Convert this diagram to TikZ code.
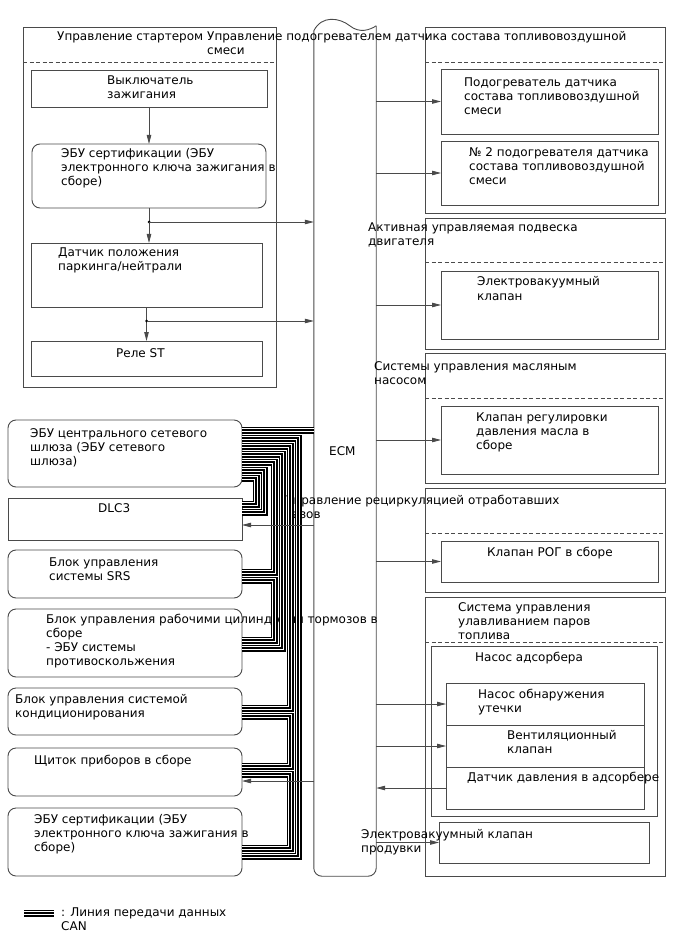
\documentclass[tikz,border=0pt]{standalone}
\usepackage{fontspec}
\setmainfont{DejaVu Sans}
\usetikzlibrary{arrows.meta,calc}
\definecolor{linegray}{HTML}{4A4A4A}
\newcommand{\lblfont}{\fontsize{12}{14}\selectfont}
\tikzset{
    box/.style={draw=linegray, line width=0.9pt, inner sep=0pt, outer sep=0pt}, % блок
    rbox/.style={box, rounded corners=8pt},
    sep/.style={draw=linegray, line width=0.8pt, dash pattern=on 4pt off 2.5pt},
    lbl/.style={anchor=base west, inner sep=0pt, align=left, font=\lblfont},
    arr/.style={draw=linegray, line width=0.8pt, -{Triangle[length=9pt,width=4.5pt]}},
    can/.style={draw=black, line width=7pt, line join=miter,
        postaction={draw=white, line width=4.2pt},
        postaction={draw=black, line width=1.4pt}} % линия CAN
}

\begin{document}
\begin{tikzpicture}[x=1pt, y=-1pt]
	\useasboundingbox (0,0) rectangle (688,949);

	% управление стартером
	\node (stgrp) [box, minimum width=253, minimum height=360] at (149.5,207) {};
	\node (ign) [box, minimum width=236, minimum height=37] at (149,88.5) {};
	\node (cert1) [rbox, minimum width=234, minimum height=64] at (149,176) {};
	\node (park) [box, minimum width=231, minimum height=64] at (146.5,275) {};
	\node (relay) [box, minimum width=231, minimum height=35] at (146.5,358.5) {};

	% ECM
	\node (ecm) [inner sep=0pt, minimum width=62, minimum height=851] at (345,450.5) {};
	\draw[draw=linegray, line width=0.9pt, rounded corners=8pt] ($(ecm.north east)+(0,1)$) -- (ecm.south east) -- (ecm.south west) -- ($(ecm.north west)+(0,6)$);
	\draw[draw=linegray, line width=0.9pt] ($(ecm.north west)+(0,6)$) .. controls +(8,-16) and +(-10,-8) .. ($(ecm.north west)+(36,1)$) .. controls +(10,8) and +(-6,4) .. ($(ecm.north east)+(0,1)$);

	% правые группы
	\node (htgrp) [box, minimum width=240, minimum height=186] at (545,120) {};
	\node (heat1) [box, minimum width=217, minimum height=65] at (549.5,101.5) {};
	\node (heat2) [box, minimum width=217, minimum height=64] at (549.5,173) {};
	\node (mtgrp) [box, minimum width=240, minimum height=131] at (545,283.5) {};
	\node (mvalve) [box, minimum width=217, minimum height=68] at (549.5,305) {};
	\node (oilgrp) [box, minimum width=240, minimum height=130] at (545,418) {};
	\node (oilv) [box, minimum width=217, minimum height=68] at (549.5,440) {};
	\node (egrgrp) [box, minimum width=240, minimum height=104] at (545,540) {};
	\node (egrv) [box, minimum width=217, minimum height=41] at (549.5,561.5) {};
	\node (evgrp) [box, minimum width=240, minimum height=279] at (545,736.5) {};
	\node (pump) [box, minimum width=226, minimum height=170] at (544,731) {};
	\node (leak) [box, minimum width=198, minimum height=42] at (545,704) {};
	\node (vent) [box, minimum width=198, minimum height=42] at (545,746) {};
	\node (press) [box, minimum width=198, minimum height=42] at (545,788) {};
	\node (purge) [box, minimum width=210, minimum height=41] at (544,842.5) {};

	\foreach \g/\d in {stgrp/35, htgrp/35, mtgrp/44, oilgrp/45, egrgrp/45, evgrp/45}
		\draw[sep] ($(\g.north west)+(0,\d)$) -- ($(\g.north east)+(0,\d)$);

	% блоки CAN
	\node (gw) [rbox, minimum width=234, minimum height=67] at (125,453.5) {};
	\node (dlc) [box, minimum width=234, minimum height=42] at (125,519) {};
	\node (srs) [rbox, minimum width=234, minimum height=48] at (125,574) {};
	\node (brake) [rbox, minimum width=234, minimum height=68] at (125,643) {};
	\node (ac) [rbox, minimum width=234, minimum height=47] at (125,711.5) {};
	\node (gauge) [rbox, minimum width=234, minimum height=48] at (125,772) {};
	\node (cert2) [rbox, minimum width=234, minimum height=68] at (125,842) {};

	% надписи (по базовой линии последней строки)
	\node (t1) [lbl] at (57,41) {Управление стартером};
	\node (t2) [lbl] at (207,55) {Управление подогревателем датчика состава топливовоздушной\\смеси};
	\node (t3) [lbl] at (107,99) {Выключатель\\зажигания};
	\node (t4) [lbl] at (61,186) {ЭБУ сертификации (ЭБУ\\электронного ключа зажигания в\\сборе)};
	\node (t5) [lbl] at (58,271) {Датчик положения\\паркинга/нейтрали};
	\node (t6) [lbl] at (116,357) {Реле ST};
	\node (t7) [lbl] at (464,115) {Подогреватель датчика\\состава топливовоздушной\\смеси};
	\node (t8) [lbl] at (469,185) {№ 2 подогревателя датчика\\состава топливовоздушной\\смеси};
	\node (t9) [lbl] at (368,246) {Активная управляемая подвеска\\двигателя};
	\node (t10) [lbl] at (477,300) {Электровакуумный\\клапан};
	\node (t11) [lbl] at (374,384) {Системы управления масляным\\насосом};
	\node (t12) [lbl] at (476,449) {Клапан регулировки\\давления масла в\\сборе};
	\node (t13) [lbl] at (329,455) {ECM};
	\node (t14) [lbl] at (30,465) {ЭБУ центрального сетевого\\шлюза (ЭБУ сетевого\\шлюза)};
	\node (t15) [lbl] at (98,512) {DLC3};
	\node (t16) [lbl] at (286,518) {Управление рециркуляцией отработавших\\газов};
	\node (t17) [lbl] at (487,556) {Клапан РОГ в сборе};
	\node (t18) [lbl] at (49,580) {Блок управления\\системы SRS};
	\node (t19) [lbl] at (458,639) {Система управления\\улавливанием паров\\топлива};
	\node (t20) [lbl] at (46,665) {Блок управления рабочими цилиндрами тормозов в\\сборе\\- ЭБУ системы\\противоскольжения};
	\node (t21) [lbl] at (475,661) {Насос адсорбера};
	\node (t22) [lbl] at (478,712) {Насос обнаружения\\утечки};
	\node (t23) [lbl] at (15,717) {Блок управления системой\\кондиционирования};
	\node (t24) [lbl] at (507,753) {Вентиляционный\\клапан};
	\node (t25) [lbl] at (467,781) {Датчик давления в адсорбере};
	\node (t26) [lbl] at (34,764) {Щиток приборов в сборе};
	\node (t27) [lbl] at (34,851) {ЭБУ сертификации (ЭБУ\\электронного ключа зажигания в\\сборе)};
	\node (t28) [lbl] at (361,852) {Электровакуумный клапан\\продувки};

	% сигналы стартера
	\coordinate (d1) at ($(cert1.south)+(0,14)$);
	\coordinate (d2) at ($(park.south)+(0,14)$);
	\draw[arr] (ign.south) -- (cert1.north);
	\draw[arr] (cert1.south) -- (cert1.south |- park.north);
	\draw[arr] (park.south) -- (relay.north);
	\fill[black] (d1) circle (1.5) (d2) circle (1.5);
	\draw[arr] (d1) -- (ecm.west |- d1);
	\draw[arr] (d2) -- (ecm.west |- d2);

	% шина CAN
	\coordinate (gwtop) at ($(gw.east)+(0,-23.5)$);
	\draw[can] (gwtop) -- (ecm.west |- gwtop);
	\foreach \na/\da/\xc/\nb/\db in {gw/-15.5/56/cert2/14, gw/-7.5/48/ac/-3.5, gw/0.5/40/brake/5, gw/8.5/32/srs/-2, gw/16.5/22/dlc/-7, gw/24.5/14/dlc/-15, srs/6/32/brake/-3, ac/4.5/48/gauge/-6, gauge/2/48/cert2/6}
		\draw[can] ($(\na.east)+(0,\da)$) -| ($(\nb.east)+(\xc,\db)$) -- ($(\nb.east)+(0,\db)$);

	% выходы ECM
	\foreach \t in {heat1, heat2, mvalve, oilv, egrv, leak, vent, purge}
		\draw[arr] (ecm.east |- \t.west) -- (\t.west);
	\draw[arr] (press.west) -- (ecm.east |- press.west);
	\coordinate (dlcin) at ($(dlc.east)+(0,6)$);
	\coordinate (gaugein) at ($(gauge.east)+(0,9)$);
	\draw[arr] (ecm.west |- dlcin) -- (dlcin);
	\draw[arr] (ecm.west |- gaugein) -- (gaugein);

	% легенда
	\coordinate (lgl) at (24,913);
	\coordinate (lgr) at (54,913);
	\draw[can] (lgl) -- (lgr);
	\node (lgtxt) [lbl] at (61,930) {: Линия передачи данных\\CAN};
\end{tikzpicture}
\end{document}
